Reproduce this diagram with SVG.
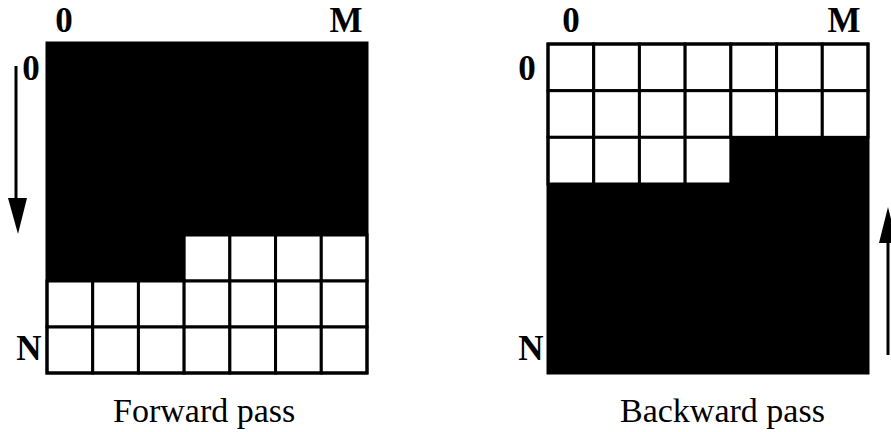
<svg xmlns="http://www.w3.org/2000/svg" width="891" height="432" viewBox="0 0 891 432">
  <style>
    .lbl { font-family: "Liberation Serif", "Times New Roman", serif; font-weight: bold; font-size: 35px; fill: #000; text-anchor: middle; }
    .cap { font-family: "Liberation Serif", "Times New Roman", serif; font-size: 34px; fill: #000; }
    .cell { fill: #fff; stroke: #000; stroke-width: 3; }
    .frame { fill: none; stroke: #000; stroke-width: 3; }
    .done { fill: #000; }
    .shaft { stroke: #000; stroke-width: 3; fill: none; }
  </style>
  <defs>
    <rect id="cL" width="45.71" height="46" class="cell"/>
    <rect id="cR" width="45.71" height="46.67" class="cell"/>
  </defs>
  <rect width="891" height="432" fill="#fff"/>

  <!-- Forward pass grid -->
  <g id="forward-grid">
    <polygon class="done" points="47,43 367,43 367,235 184.1,235 184.1,281 47,281"/>
    <use href="#cL" x="184.14" y="235"/>
    <use href="#cL" x="229.86" y="235"/>
    <use href="#cL" x="275.57" y="235"/>
    <use href="#cL" x="321.29" y="235"/>
    <use href="#cL" x="47" y="281"/>
    <use href="#cL" x="92.71" y="281"/>
    <use href="#cL" x="138.43" y="281"/>
    <use href="#cL" x="184.14" y="281"/>
    <use href="#cL" x="229.86" y="281"/>
    <use href="#cL" x="275.57" y="281"/>
    <use href="#cL" x="321.29" y="281"/>
    <use href="#cL" x="47" y="327"/>
    <use href="#cL" x="92.71" y="327"/>
    <use href="#cL" x="138.43" y="327"/>
    <use href="#cL" x="184.14" y="327"/>
    <use href="#cL" x="229.86" y="327"/>
    <use href="#cL" x="275.57" y="327"/>
    <use href="#cL" x="321.29" y="327"/>
    <rect class="frame" x="47" y="43" width="320" height="330"/>
    <text class="lbl" x="64" y="32">0</text>
    <text class="lbl" x="346" y="32">M</text>
    <text class="lbl" x="31" y="80">0</text>
    <text class="lbl" x="29" y="360">N</text>
    <text class="cap" x="113" y="422">Forward pass</text>
  </g>

  <!-- Backward pass grid -->
  <g id="backward-grid">
    <polygon class="done" points="548,184 730.9,184 730.9,137.3 868,137.3 868,373 548,373"/>
    <use href="#cR" x="548" y="44"/>
    <use href="#cR" x="593.71" y="44"/>
    <use href="#cR" x="639.43" y="44"/>
    <use href="#cR" x="685.14" y="44"/>
    <use href="#cR" x="730.86" y="44"/>
    <use href="#cR" x="776.57" y="44"/>
    <use href="#cR" x="822.29" y="44"/>
    <use href="#cR" x="548" y="90.67"/>
    <use href="#cR" x="593.71" y="90.67"/>
    <use href="#cR" x="639.43" y="90.67"/>
    <use href="#cR" x="685.14" y="90.67"/>
    <use href="#cR" x="730.86" y="90.67"/>
    <use href="#cR" x="776.57" y="90.67"/>
    <use href="#cR" x="822.29" y="90.67"/>
    <use href="#cR" x="548" y="137.33"/>
    <use href="#cR" x="593.71" y="137.33"/>
    <use href="#cR" x="639.43" y="137.33"/>
    <use href="#cR" x="685.14" y="137.33"/>
    <rect class="frame" x="548" y="44" width="320" height="329"/>
    <text class="lbl" x="571" y="32">0</text>
    <text class="lbl" x="844" y="32">M</text>
    <text class="lbl" x="527" y="80">0</text>
    <text class="lbl" x="531" y="360">N</text>
    <text class="cap" x="620" y="422">Backward pass</text>
  </g>

  <!-- Pass direction arrows -->
  <g id="connectors">
    <line class="shaft" x1="16" y1="66" x2="16" y2="200"/>
    <polygon points="8,198 27,198 18,234" fill="#000"/>
    <line class="shaft" x1="888" y1="355" x2="888" y2="240"/>
    <polygon points="879,243 897,243 888,207" fill="#000"/>
  </g>
</svg>
